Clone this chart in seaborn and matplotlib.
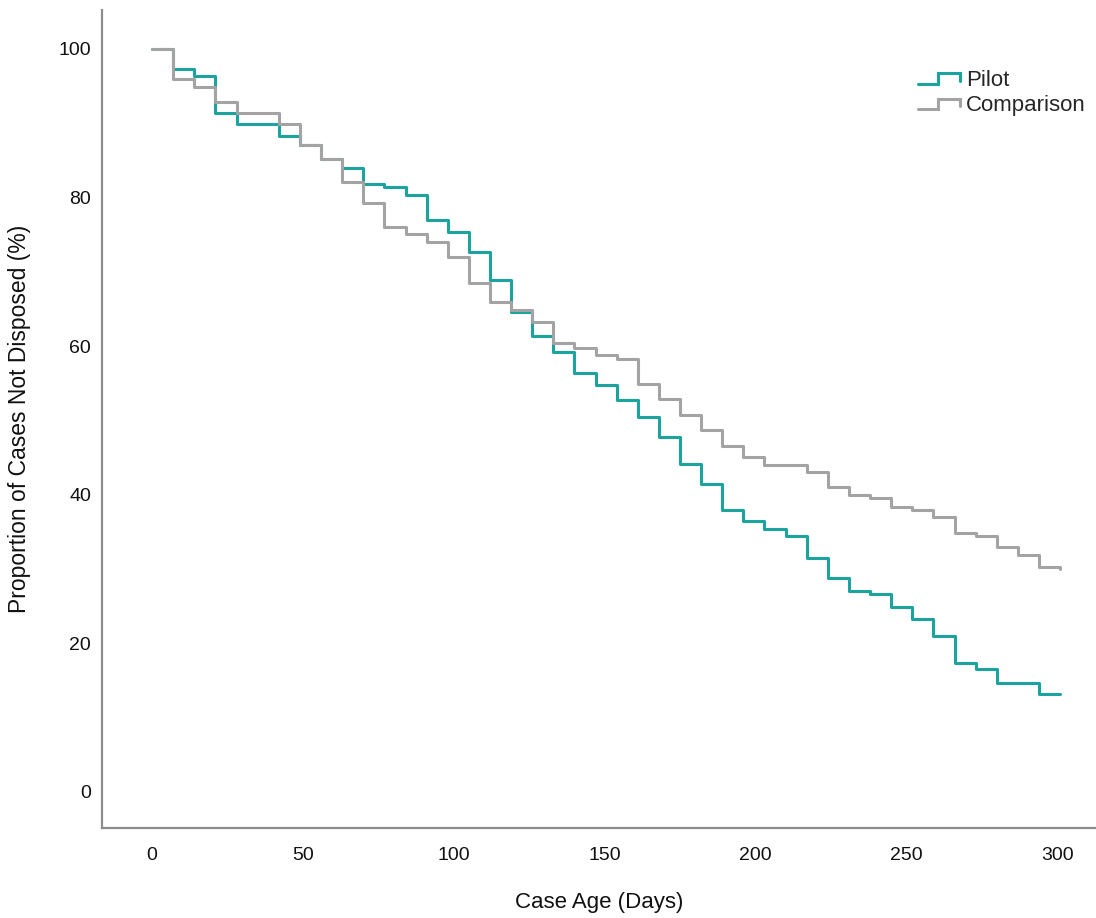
import matplotlib
matplotlib.use('Agg')
import matplotlib.pyplot as plt
import pandas
import seaborn as sns
from matplotlib.legend_handler import HandlerBase
from matplotlib.lines import Line2D

days = [0, 7, 14, 21, 28, 35, 42, 49, 56, 63, 70, 77, 84, 91, 98, 105, 112, 119, 126, 133,
        140, 147, 154, 161, 168, 175, 182, 189, 196, 203, 210, 217, 224, 231, 238, 245, 252,
        259, 266, 273, 280, 287, 294, 301]
pilot = [100, 97.3, 96.4, 91.4, 89.9, 89.9, 88.3, 87.1, 85.1, 83.9, 81.8, 81.4, 80.3, 77.0,
         75.4, 72.7, 68.9, 64.6, 61.3, 59.2, 56.4, 54.8, 52.8, 50.5, 47.8, 44.1, 41.5, 38.0,
         36.5, 35.4, 34.4, 31.5, 28.8, 27.1, 26.6, 24.9, 23.3, 21.0, 17.3, 16.6, 14.7, 14.7,
         13.2, 13.2]
comparison = [100, 95.9, 94.9, 92.8, 91.4, 91.4, 89.9, 87.1, 85.1, 82.1, 79.3, 76.0, 75.1,
              74.0, 72.0, 68.5, 65.9, 64.8, 63.3, 60.4, 59.8, 58.8, 58.3, 54.9, 52.9, 50.7,
              48.7, 46.6, 45.1, 44.0, 44.0, 43.0, 41.1, 40.0, 39.5, 38.4, 38.0, 37.0, 34.9,
              34.4, 32.9, 31.9, 30.3, 30.0]
groups = ['Pilot', 'Comparison']
colors = {'Pilot': '#1aa39f', 'Comparison': '#a3a3a3'}

data = pandas.concat([
    pandas.DataFrame({'day': days, 'value': pilot, 'group': 'Pilot'}),
    pandas.DataFrame({'day': days, 'value': comparison, 'group': 'Comparison'}),
])


class StepHandler(HandlerBase):
    # little step glyph like the one in the original legend
    def create_artists(self, legend, orig_handle, xdescent, ydescent, width, height, fontsize, trans):
        x0 = -xdescent
        y0 = -ydescent
        xs = [x0, x0 + 0.47 * width, x0 + 0.47 * width, x0 + width, x0 + width]
        ys = [y0 + 0.1 * height, y0 + 0.1 * height, y0 + 0.85 * height, y0 + 0.85 * height, y0 + 0.3 * height]
        line = Line2D(xs, ys, color=orig_handle.get_color(), linewidth=orig_handle.get_linewidth(),
                      solid_joinstyle='miter', transform=trans)
        return [line]


sns.set_style('white')
plt.rcParams['font.family'] = ['Liberation Sans', 'DejaVu Sans']

fig = plt.figure(figsize=(10.96, 9.18), dpi=100)
ax = fig.add_axes([0.0931, 0.098, 0.9069, 0.891])
sns.lineplot(data=data, x='day', y='value', hue='group', hue_order=groups,
             palette=colors, drawstyle='steps-post', linewidth=2.2, ax=ax, legend=False)

ax.set_xlim(-16.6, 312.9)
ax.set_ylim(-4.85, 105.2)
ax.set_xticks([0, 50, 100, 150, 200, 250, 300])
ax.set_yticks([0, 20, 40, 60, 80, 100])
ax.tick_params(axis='both', length=0, labelsize=14, colors='#111111')
ax.tick_params(axis='x', pad=14)
ax.tick_params(axis='y', pad=8)
ax.set_xlabel('Case Age (Days)', fontsize=16, labelpad=20, color='#111111')
ax.set_ylabel('Proportion of Cases Not Disposed (%)', fontsize=16.5, labelpad=20, color='#111111')

for side in ['top', 'right']:
    ax.spines[side].set_visible(False)
for side in ['left', 'bottom']:
    ax.spines[side].set_color('#8c8c8c')
    ax.spines[side].set_linewidth(1.6)

handles = [Line2D([], [], color=colors[g], linewidth=2.2) for g in groups]
ax.legend(handles, groups, handler_map={Line2D: StepHandler()}, frameon=False, fontsize=16,
          loc='upper left', bbox_to_anchor=(918 / 1096, 1 - 70 / 918), bbox_transform=fig.transFigure,
          borderaxespad=0, borderpad=0, handlelength=1.9, handleheight=0.6, handletextpad=0.25,
          labelspacing=0.2)

fig.savefig('out.png', dpi=100)
